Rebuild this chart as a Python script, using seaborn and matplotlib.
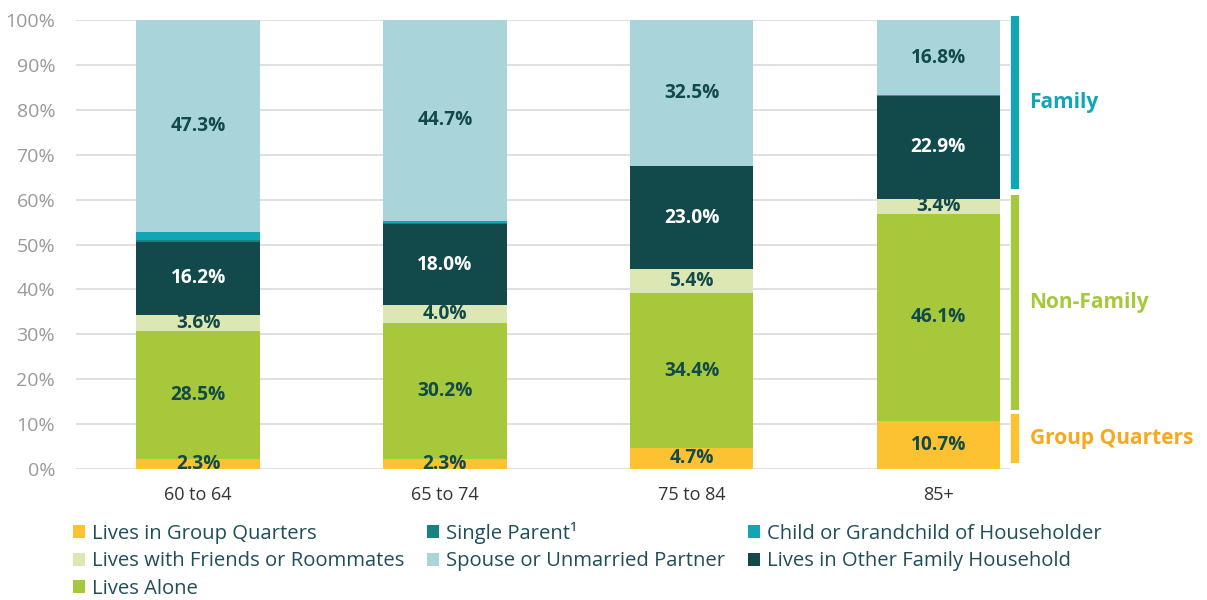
import numpy as np
import pandas as pd
import matplotlib
matplotlib.use("Agg")
import matplotlib.pyplot as plt
import matplotlib.transforms as mtransforms
from matplotlib.patches import Patch
import seaborn as sns

# Household living arrangements by age group (percent of population)
age_groups = ["60 to 64", "65 to 74", "75 to 84", "85+"]
group_quarters = [2.3, 2.3, 4.7, 10.7]
lives_alone = [28.5, 30.2, 34.4, 46.1]
friends_roommates = [3.6, 4.0, 5.4, 3.4]
other_family = [16.2, 18.0, 23.0, 22.9]
single_parent = [0.5, 0.2, 0.0, 0.0]
child_grandchild = [1.6, 0.6, 0.0, 0.1]
spouse_partner = [47.3, 44.7, 32.5, 16.8]

series_names = [
    "Lives in Group Quarters",
    "Lives Alone",
    "Lives with Friends or Roommates",
    "Lives in Other Family Household",
    "Single Parent¹",
    "Child or Grandchild of Householder",
    "Spouse or Unmarried Partner",
]
series_values = [group_quarters, lives_alone, friends_roommates, other_family,
                 single_parent, child_grandchild, spouse_partner]
series_colors = ["#FDC232", "#A6C83A", "#DCE7B4", "#124A4B",
                 "#178280", "#12A6B4", "#A8D4DA"]
label_colors = ["#124A4B", "#124A4B", "#124A4B", "white",
                None, None, "#124A4B"]

sns.set_theme(style="white")
plt.rcParams["font.family"] = ["Open Sans", "DejaVu Sans"]

df = pd.DataFrame({"age": age_groups})
for name, vals in zip(series_names, series_values):
    df[name] = vals
cum = df[series_names].cumsum(axis=1)

fig = plt.figure(figsize=(12.07, 6.0), dpi=100)
ax = fig.add_axes([76 / 1207, 131 / 600, 934 / 1207, 449 / 600])

# Stacked bars: draw cumulative totals from the top layer down
for name, color in reversed(list(zip(series_names, series_colors))):
    sns.barplot(x=df["age"], y=cum[name], color=color, width=0.5,
                linewidth=0, saturation=1, ax=ax, zorder=3)

# Segment value labels
for si, (vals, tc) in enumerate(zip(series_values, label_colors)):
    if tc is None:
        continue
    for i, v in enumerate(vals):
        base = cum.iloc[i, si] - v
        ax.text(i, base + v / 2, f"{v:.1f}%", ha="center", va="center",
                fontsize=13.8, fontweight="bold", color=tc, zorder=5)

ax.set_ylim(0, 100)
ax.set_xlim(-0.495, 3.29)
ax.set_yticks(np.arange(0, 101, 10))
ax.set_yticklabels([f"{t}%" for t in range(0, 101, 10)])
ax.yaxis.grid(True, color="#DDDDDD", linewidth=1.3, zorder=0)
ax.set_axisbelow(True)
for s in ax.spines.values():
    s.set_visible(False)
ax.tick_params(axis="y", length=0, pad=15, labelsize=14, labelcolor="#9A9A9A")
ax.tick_params(axis="x", length=0, pad=12, labelsize=13, labelcolor="#333333")
ax.set_xlabel("")
ax.set_ylabel("")

# Category brackets on the right
trans = mtransforms.blended_transform_factory(ax.transAxes, ax.transData)
brackets = [
    ("Family", 62.4, 101.0, "#12A6B4", "#12A6B4"),
    ("Non-Family", 13.1, 61.0, "#A6C83A", "#A6C83A"),
    ("Group Quarters", 1.3, 12.2, "#FDC232", "#F9A81B"),
]
for label, y0, y1, lc, tc in brackets:
    ax.plot([1.005, 1.005], [y0, y1], color=lc, linewidth=6.0,
            solid_capstyle="butt", transform=trans, clip_on=False)
    ax.text(1.021, (y0 + y1) / 2, label, transform=trans, ha="left",
            va="center", fontsize=15, fontweight="bold", color=tc)

# Legend in three columns below the plot
handles = [Patch(facecolor=c, edgecolor="none") for c in series_colors]
by_name = dict(zip(series_names, handles))
order = ["Lives in Group Quarters", "Lives with Friends or Roommates", "Lives Alone",
         "Single Parent¹", "Spouse or Unmarried Partner",
         "Child or Grandchild of Householder", "Lives in Other Family Household"]
fig.legend([by_name[n] for n in order], order, ncol=3, loc="upper left",
           bbox_to_anchor=(73 / 1207, 1 - 522 / 600), frameon=False,
           fontsize=14.6, labelcolor="#1F4E5A", handlelength=0.6, handleheight=0.6,
           handletextpad=0.35, columnspacing=1.1, labelspacing=0.36,
           borderaxespad=0, borderpad=0)

fig.savefig("out.png", dpi=100)
